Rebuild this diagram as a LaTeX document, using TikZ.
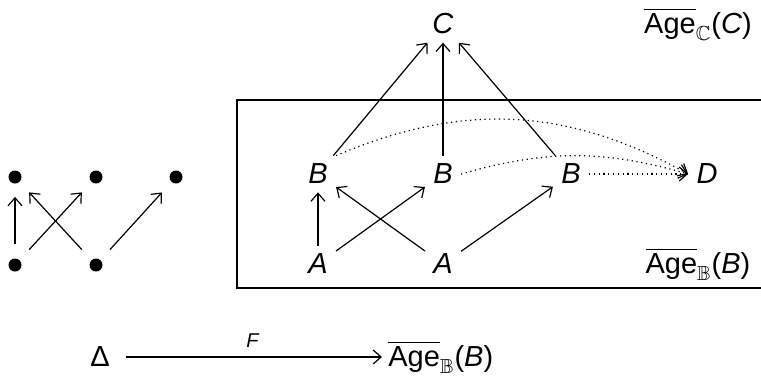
\documentclass[tikz,border=0pt]{standalone}
\usepackage{amsmath,amssymb}
\usepackage{fontspec}
\setmainfont{Liberation Sans}
\usetikzlibrary{arrows.meta}
\begin{document}
\begin{tikzpicture}[x=0.5pt,y=-0.5pt,
  every node/.style={font=\fontsize{14.5}{17}\selectfont},
  obj/.style={inner sep=4pt},
  dot/.style={circle,fill=black,inner sep=0pt,minimum size=6.5pt},
  arr/.style={-{Straight Barb[length=4pt,width=7pt,line width=0.6pt]},line width=0.6pt},
  darr/.style={-{Straight Barb[length=4pt,width=7pt,line width=0.6pt]},line width=0.6pt,dash pattern=on 0.6pt off 1.8pt},
  lbl/.style={inner sep=0pt}]
\useasboundingbox (0,0) rectangle (761,376);
% left graph
\node[dot] (p1) at (15,177) {};
\node[dot] (p2) at (96,177) {};
\node[dot] (p3) at (176,177) {};
\node[dot] (q1) at (15,265) {};
\node[dot] (q2) at (96,265) {};
\draw[arr,shorten <=7pt,shorten >=6.5pt] (q1) -- (p1);
\draw[arr,shorten <=7pt,shorten >=7pt] (q1) -- (p2);
\draw[arr,shorten <=7pt,shorten >=7pt] (q2) -- (p1);
\draw[arr,shorten <=7pt,shorten >=7pt] (q2) -- (p3);
% box
\draw[line width=0.6pt] (761,100) -- (237,100) -- (237,288) -- (761,288);
% right diagram
\node[obj] (C) at (443,24) {\textit{C}};
\node[obj] (B1) at (318,174) {\textit{B}};
\node[obj] (B2) at (443,174) {\textit{B}};
\node[obj] (B3) at (571,174) {\textit{B}};
\node[obj] (D) at (707,174) {\textit{D}};
\node[obj] (A1) at (318,264) {\textit{A}};
\node[obj] (A2) at (443,264) {\textit{A}};
\node[lbl] (LC) at (698,24) {$\overline{\text{Age}}_{\mathbb{C}}$(\textit{C})};
\node[lbl] (LB) at (698,264) {$\overline{\text{Age}}_{\mathbb{B}}$(\textit{B})};
\draw[arr] (A1) -- (B1);
\draw[arr] (A1) -- (B2);
\draw[arr] (A2) -- (B1);
\draw[arr] (A2) -- (B3);
\draw[arr] (B1) -- (C);
\draw[arr] (B2) -- (C);
\draw[arr] (B3) -- (C);
\draw[darr] (B1.north east) to[bend left=26] (D.west);
\draw[darr] (B2.east) to[bend left=16] (D.west);
\draw[darr] (B3) -- (D);
% bottom
\node[obj] (Dl) at (100,357) {Δ};
\node[lbl,anchor=west] (AB) at (388,357) {$\overline{\text{Age}}_{\mathbb{B}}$(\textit{B})};
\draw[arr,shorten <=4pt,shorten >=3pt] (Dl) -- node[above=1pt,font=\fontsize{10}{12}\selectfont] (F) {\textit{F}} (AB);
\end{tikzpicture}
\end{document}
